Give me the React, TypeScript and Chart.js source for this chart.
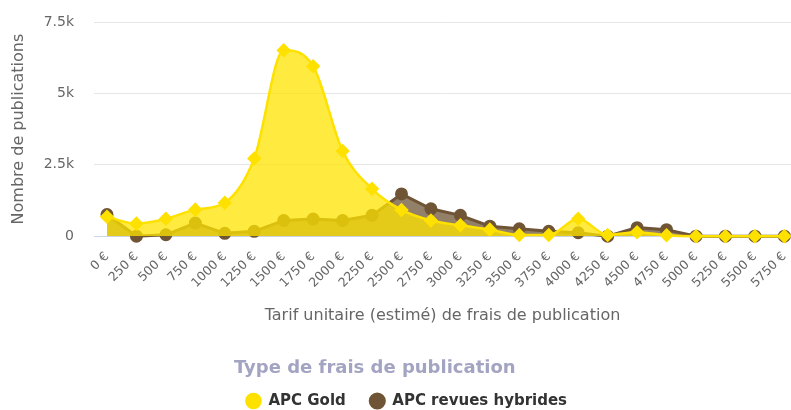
import React, { useEffect, useRef } from "react";
import { Chart, registerables } from "chart.js";
Chart.register(...registerables);

const categories = [
  "0 €", "250 €", "500 €", "750 €", "1000 €", "1250 €", "1500 €", "1750 €",
  "2000 €", "2250 €", "2500 €", "2750 €", "3000 €", "3250 €", "3500 €", "3750 €",
  "4000 €", "4250 €", "4500 €", "4750 €", "5000 €", "5250 €", "5500 €", "5750 €",
];
const apcGold = [680, 440, 610, 930, 1170, 2720, 6510, 5950, 2980, 1660, 920, 550, 380, 230, 40, 40, 610, 45, 140, 30, 0, 0, 0, 0];
const apcHybrid = [760, 0, 50, 460, 100, 170, 550, 600, 550, 730, 1480, 960, 730, 350, 260, 170, 120, 0, 300, 230, 0, 0, 0, 0];
const yTicks = [0, 2500, 5000, 7500];
const yTickLabels = ["0", "2.5k", "5k", "7.5k"];

const FONT = "'DejaVu Sans', sans-serif";

export default function App() {
  const ref = useRef<HTMLCanvasElement>(null);
  useEffect(() => {
    if (!ref.current) return;
    const chart = new Chart(ref.current, {
      type: "line",
      data: {
        datasets: [
          {
            label: "APC Gold",
            data: apcGold.map((v, i) => ({ x: i, y: v })),
            borderColor: "#ffe100",
            backgroundColor: "rgba(255,228,0,0.75)",
            pointBackgroundColor: "#ffe100",
            pointBorderColor: "#ffe100",
            pointStyle: "rectRot",
            pointRadius: 5.5,
            borderWidth: 2.5,
            fill: "origin",
            cubicInterpolationMode: "monotone",
            clip: false,
          },
          {
            label: "APC revues hybrides",
            data: apcHybrid.map((v, i) => ({ x: i, y: v })),
            borderColor: "#6f5535",
            backgroundColor: "rgba(111,85,53,0.75)",
            pointBackgroundColor: "#6f5535",
            pointBorderColor: "#6f5535",
            pointStyle: "circle",
            pointRadius: 5,
            borderWidth: 3,
            fill: "origin",
            tension: 0,
            clip: false,
          },
        ],
      },
      options: {
        responsive: false,
        animation: false,
        layout: { autoPadding: false, padding: { top: 22, left: 22, right: 0, bottom: -8.5 } },
        scales: {
          x: {
            type: "linear",
            min: -0.441,
            max: 23.226,
            afterBuildTicks: (axis: any) => {
              axis.ticks = categories.map((_, i) => ({ value: i }));
            },
            afterFit: (scale: any) => {
              scale.height = 123;
              scale.paddingRight = 0;
            },
            grid: { display: false },
            border: { color: "#ccd6eb", width: 1 },
            ticks: {
              minRotation: 45,
              maxRotation: 45,
              autoSkip: false,
              color: "#666666",
              font: { family: FONT, size: 12.5 },
              padding: 5,
              callback: (v: any) => categories[v] ?? "",
            },
            title: {
              display: true,
              text: "Tarif unitaire (estimé) de frais de publication",
              color: "#666666",
              font: { family: FONT, size: 16 },
              padding: { top: 4, bottom: 33.6 },
            },
          },
          y: {
            min: 0,
            max: 7500,
            afterBuildTicks: (axis: any) => {
              axis.ticks = yTicks.map((v) => ({ value: v }));
            },
            afterFit: (scale: any) => {
              scale.width = 72;
              scale.paddingTop = 0;
            },
            grid: { color: "#e6e6e6", drawTicks: false, lineWidth: 1 },
            border: { display: false },
            ticks: {
              color: "#666666",
              font: { family: FONT, size: 14 },
              padding: 20,
              callback: (v: any) => yTickLabels[yTicks.indexOf(v)] ?? "",
            },
            title: {
              display: true,
              text: "Nombre de publications",
              color: "#666666",
              font: { family: FONT, size: 16 },
              padding: { top: -13, bottom: 0 },
            },
          },
        },
        plugins: {
          tooltip: { enabled: false },
          legend: {
            position: "bottom",
            labels: {
              usePointStyle: true,
              pointStyle: "circle",
              boxWidth: 15,
              boxHeight: 10,
              color: "#333333",
              font: { family: FONT, size: 15, weight: "bold" },
              padding: 24,
            },
            title: {
              display: true,
              text: "Type de frais de publication",
              color: "#a3a3c2",
              position: "start",
              font: { family: FONT, size: 18, weight: "bold" },
              padding: { top: 0, bottom: -11.3 },
            },
          },
        },
      },
    });
    return () => chart.destroy();
  }, []);
  return (
    <div style={{ position: "fixed", left: 0, top: 0, width: 791, height: 410, background: "#fff" }}>
      <canvas ref={ref} width={791} height={410} />
    </div>
  );
}
